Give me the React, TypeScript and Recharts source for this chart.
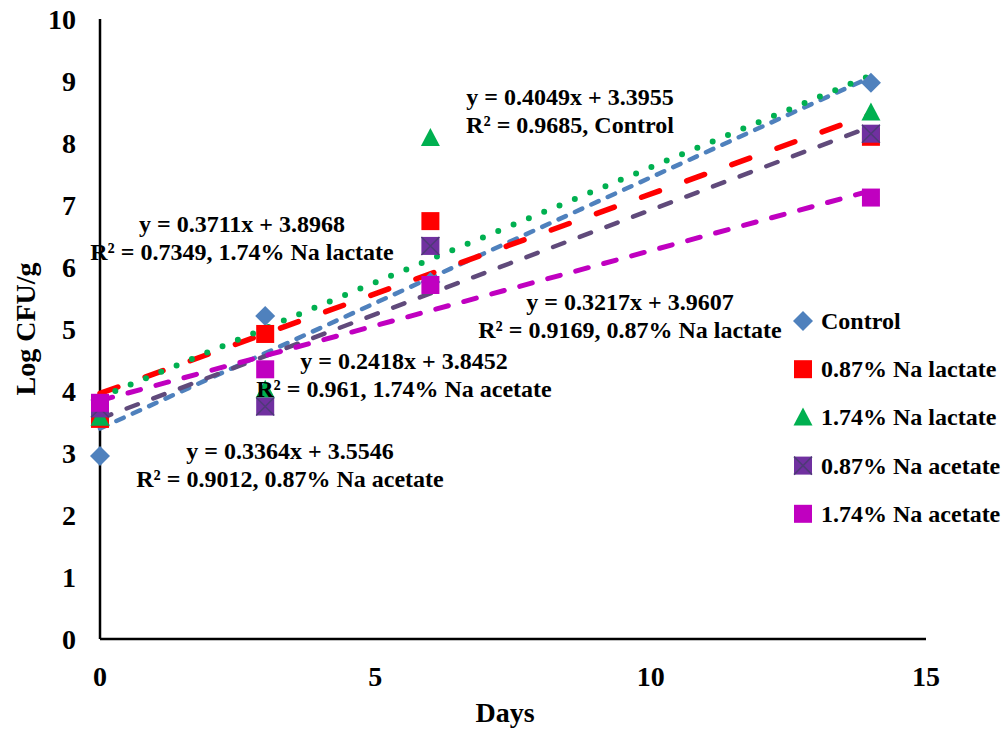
import React from 'react'
import { ScatterChart, Scatter, XAxis, YAxis } from 'recharts'

// storage days and Log CFU/g per treatment
const days = [0, 3, 6, 14]
const controlValues = [2.95, 5.21, 5.76, 8.97]
const lactate087Values = [3.55, 4.92, 6.74, 8.1]
const lactate174Values = [3.57, 4.02, 8.08, 8.49]
const acetate087Values = [3.72, 3.75, 6.34, 8.15]
const acetate174Values = [3.81, 4.35, 5.71, 7.12]

// linear trendline values at day 0 and day 14
const trendDays = [0, 14]
const controlTrend = [3.3955, 9.0641]
const lactate087Trend = [3.9607, 8.4645]
const lactate174Trend = [3.8968, 9.0922]
const acetate087Trend = [3.5546, 8.2642]
const acetate174Trend = [3.8452, 7.2304]

const xTicks = [0, 5, 10, 15]
const yTicks = [0, 1, 2, 3, 4, 5, 6, 7, 8, 9, 10]

const FONT = '"Liberation Serif", "Times New Roman", serif'

const toPoints = (xs: number[], ys: number[]) => xs.map((x, i) => ({ x, y: ys[i] }))

type Shape = 'diamond' | 'square' | 'triangle' | 'xsquare'

const Marker = ({ cx, cy, kind, color }: { cx: number; cy: number; kind: Shape; color: string }) => {
  if (kind === 'diamond') {
    const r = 10
    return <polygon points={`${cx},${cy - r} ${cx + r},${cy} ${cx},${cy + r} ${cx - r},${cy}`} fill={color} />
  }
  if (kind === 'triangle') {
    return <polygon points={`${cx},${cy - 10} ${cx + 9.5},${cy + 8} ${cx - 9.5},${cy + 8}`} fill={color} />
  }
  const h = 9
  return (
    <g>
      <rect x={cx - h} y={cy - h} width={h * 2} height={h * 2} fill={color} />
      {kind === 'xsquare' && (
        <path
          d={`M${cx - h} ${cy - h} L${cx + h} ${cy + h} M${cx + h} ${cy - h} L${cx - h} ${cy + h}`}
          stroke='#4f3a78'
          strokeWidth={1.5}
        />
      )}
    </g>
  )
}

const series = [
  { name: 'Control', values: controlValues, trend: controlTrend, kind: 'diamond' as Shape, color: '#4F81BD', lineColor: '#4F81BD', width: 4.5, dash: '8 10' },
  { name: '0.87% Na lactate', values: lactate087Values, trend: lactate087Trend, kind: 'square' as Shape, color: '#FF0000', lineColor: '#FF0000', width: 5.5, dash: '19 29' },
  { name: '1.74% Na lactate', values: lactate174Values, trend: lactate174Trend, kind: 'triangle' as Shape, color: '#00B050', lineColor: '#00B050', width: 6, dash: '0 16.6' },
  { name: '0.87% Na acetate', values: acetate087Values, trend: acetate087Trend, kind: 'xsquare' as Shape, color: '#7030A0', lineColor: '#604A7B', width: 4.5, dash: '12 16.5' },
  { name: '1.74% Na acetate', values: acetate174Values, trend: acetate174Trend, kind: 'square' as Shape, color: '#C000C0', lineColor: '#C000C0', width: 5, dash: '13 16' }
]

const annotations = [
  { x: 570, y: 105, lines: ['y = 0.4049x + 3.3955', 'R² = 0.9685, Control'] },
  { x: 242, y: 232, lines: ['y = 0.3711x + 3.8968', 'R² = 0.7349, 1.74% Na lactate'] },
  { x: 630, y: 310, lines: ['y = 0.3217x + 3.9607', 'R² = 0.9169, 0.87% Na lactate'] },
  { x: 404, y: 369, lines: ['y = 0.2418x + 3.8452', 'R² = 0.961, 1.74% Na acetate'] },
  { x: 290, y: 459, lines: ['y = 0.3364x + 3.5546', 'R² = 0.9012, 0.87% Na acetate'] }
]

const legendTop = 321
const legendStep = 48.2

export default function App () {
  const tickStyle = { fontSize: 28, fontWeight: 'bold', fill: '#000', fontFamily: FONT }
  const txt = { fontFamily: FONT, fontWeight: 'bold' as const, fill: '#000' }
  return (
    <div style={{ position: 'absolute', left: 0, top: 0, width: 1004, height: 729, background: '#fff' }}>
      <ScatterChart width={1004} height={729} margin={{ top: 19, right: 78, bottom: 0, left: 0 }}>
        <XAxis
          type='number'
          dataKey='x'
          domain={[0, 15]}
          ticks={xTicks}
          tickLine={false}
          tickMargin={21}
          height={90}
          axisLine={{ stroke: '#000', strokeWidth: 2.5 }}
          tick={tickStyle}
        />
        <YAxis
          type='number'
          dataKey='y'
          domain={[0, 10]}
          ticks={yTicks}
          tickLine={false}
          tickMargin={18}
          width={100}
          axisLine={{ stroke: '#000', strokeWidth: 2.5 }}
          tick={tickStyle}
        />
        {series.map(s => (
          <Scatter
            key={s.name + '-trend'}
            name={s.name + ' trend'}
            data={toPoints(trendDays, s.trend)}
            line={{ stroke: s.lineColor, strokeWidth: s.width, strokeDasharray: s.dash, strokeLinecap: 'round' }}
            shape={() => <g />}
            legendType='none'
            isAnimationActive={false}
          />
        ))}
        {series.map(s => (
          <Scatter
            key={s.name}
            name={s.name}
            data={toPoints(days, s.values)}
            shape={(p: any) => <Marker cx={p.cx} cy={p.cy} kind={s.kind} color={s.color} />}
            isAnimationActive={false}
          />
        ))}
      </ScatterChart>
      <svg width={1004} height={729} style={{ position: 'absolute', left: 0, top: 0, pointerEvents: 'none' }}>
        {annotations.map((a, i) => (
          <text key={i} x={a.x} y={a.y} textAnchor='middle' fontSize={24} {...txt}>
            {a.lines.map((l, j) => (
              <tspan key={j} x={a.x} y={a.y + j * 27.5}>{l}</tspan>
            ))}
          </text>
        ))}
        <text x={505} y={722} textAnchor='middle' fontSize={28} {...txt}>Days</text>
        <text x={35} y={329} textAnchor='middle' fontSize={28} transform='rotate(-90 35 329)' {...txt}>Log CFU/g</text>
        {series.map((s, i) => {
          const cy = legendTop + i * legendStep
          return (
            <g key={s.name}>
              <Marker cx={803} cy={cy} kind={s.kind} color={s.color} />
              <text x={821} y={cy + 8} fontSize={24} {...txt}>{s.name}</text>
            </g>
          )
        })}
      </svg>
    </div>
  )
}
